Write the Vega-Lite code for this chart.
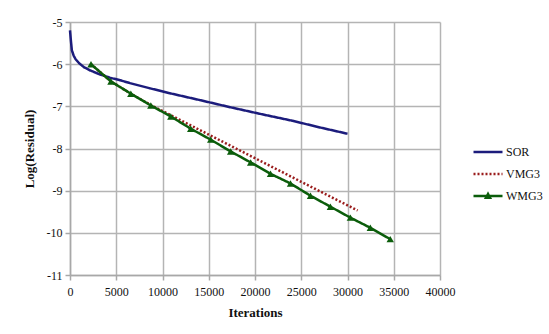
{
  "$schema": "https://vega.github.io/schema/vega-lite/v6.json",
  "width": 370,
  "height": 253,
  "autosize": {"type": "none"},
  "padding": {"left": 70, "top": 22, "right": 109, "bottom": 59},
  "background": "white",
  "config": {
    "font": "Liberation Serif",
    "view": {"stroke": null},
    "axis": {
      "gridColor": "#b4b4b4",
      "gridWidth": 1.5,
      "gridOpacity": 1,
      "domainColor": "#a8a8a8",
      "domainWidth": 1.5,
      "tickColor": "#a8a8a8",
      "tickWidth": 1.5,
      "tickSize": 5,
      "labelFlush": false,
      "labelOverlap": false,
      "labelFont": "Liberation Serif",
      "labelFontSize": 12,
      "labelColor": "#111",
      "titleFont": "Liberation Serif",
      "titleFontSize": 13,
      "titleFontWeight": "bold",
      "titleColor": "#111"
    }
  },
  "data": {
    "values": [
      {"series": "SOR", "it": 0, "r": -5.2},
      {"series": "SOR", "it": 100, "r": -5.45},
      {"series": "SOR", "it": 200, "r": -5.67},
      {"series": "SOR", "it": 400, "r": -5.8},
      {"series": "SOR", "it": 600, "r": -5.88},
      {"series": "SOR", "it": 1000, "r": -5.98},
      {"series": "SOR", "it": 1500, "r": -6.07},
      {"series": "SOR", "it": 2200, "r": -6.15},
      {"series": "SOR", "it": 3200, "r": -6.24},
      {"series": "SOR", "it": 4300, "r": -6.32},
      {"series": "SOR", "it": 5400, "r": -6.38},
      {"series": "SOR", "it": 6500, "r": -6.45},
      {"series": "SOR", "it": 8600, "r": -6.57},
      {"series": "SOR", "it": 10800, "r": -6.69},
      {"series": "SOR", "it": 14000, "r": -6.85},
      {"series": "SOR", "it": 17500, "r": -7.03},
      {"series": "SOR", "it": 21000, "r": -7.2},
      {"series": "SOR", "it": 24000, "r": -7.34},
      {"series": "SOR", "it": 27000, "r": -7.5},
      {"series": "SOR", "it": 30000, "r": -7.65},
      {"series": "VMG3", "it": 2270, "r": -6.0},
      {"series": "VMG3", "it": 4430, "r": -6.41},
      {"series": "VMG3", "it": 6580, "r": -6.7},
      {"series": "VMG3", "it": 8740, "r": -6.97},
      {"series": "VMG3", "it": 15000, "r": -7.67},
      {"series": "VMG3", "it": 20000, "r": -8.23},
      {"series": "VMG3", "it": 25000, "r": -8.79},
      {"series": "VMG3", "it": 31100, "r": -9.47},
      {"series": "WMG3", "it": 2270, "r": -6.0},
      {"series": "WMG3", "it": 4430, "r": -6.41},
      {"series": "WMG3", "it": 6580, "r": -6.7},
      {"series": "WMG3", "it": 8740, "r": -6.98},
      {"series": "WMG3", "it": 10900, "r": -7.24},
      {"series": "WMG3", "it": 13050, "r": -7.53},
      {"series": "WMG3", "it": 15210, "r": -7.79},
      {"series": "WMG3", "it": 17370, "r": -8.07},
      {"series": "WMG3", "it": 19530, "r": -8.33},
      {"series": "WMG3", "it": 21680, "r": -8.6},
      {"series": "WMG3", "it": 23840, "r": -8.83},
      {"series": "WMG3", "it": 26000, "r": -9.12},
      {"series": "WMG3", "it": 28150, "r": -9.38},
      {"series": "WMG3", "it": 30310, "r": -9.64},
      {"series": "WMG3", "it": 32470, "r": -9.88},
      {"series": "WMG3", "it": 34620, "r": -10.15}
    ]
  },
  "encoding": {
    "x": {
      "field": "it", "type": "quantitative",
      "scale": {"domain": [0, 40000], "nice": false},
      "axis": {"values": [0, 5000, 10000, 15000, 20000, 25000, 30000, 35000, 40000], "labelExpr": "'' + datum.value", "title": "Iterations", "labelPadding": 6, "titlePadding": 9}
    },
    "y": {
      "field": "r", "type": "quantitative",
      "scale": {"domain": [-11, -5], "nice": false, "zero": false},
      "axis": {"values": [-11, -10, -9, -8, -7, -6, -5], "labelExpr": "'' + datum.value", "title": "Log(Residual)", "labelPadding": 3, "titlePadding": 10}
    }
  },
  "layer": [
    {
      "mark": {"type": "line", "strokeWidth": 2.5, "clip": false},
      "encoding": {
        "color": {
          "field": "series", "type": "nominal",
          "scale": {"domain": ["SOR", "VMG3", "WMG3"], "range": ["#1c1c7c", "#9a1c1c", "#0b5d0b"]},
          "legend": {
            "title": null, "orient": "none", "legendX": 402, "legendY": 114,
            "symbolType": "stroke", "symbolSize": 841, "symbolStrokeWidth": 2.5,
            "labelFont": "Liberation Serif", "labelFontSize": 12, "labelColor": "#111",
            "labelOffset": 2, "rowPadding": -12, "padding": 0,
            "encode": {
              "symbols": {
                "update": {
                  "shape": [
                    {"test": "datum.value === 'WMG3'", "value": "M-1,0H1M-0.14,0.12L0,-0.14L0.14,0.12Z"},
                    {"value": "stroke"}
                  ],
                  "fill": [
                    {"test": "datum.value === 'WMG3'", "value": "#0b5d0b"},
                    {"value": "transparent"}
                  ]
                }
              }
            }
          }
        },
        "strokeDash": {
          "field": "series", "type": "nominal",
          "scale": {"domain": ["SOR", "VMG3", "WMG3"], "range": [[1, 0], [2, 2], [1, 0]]},
          "legend": null
        }
      }
    },
    {
      "transform": [{"filter": "datum.series == 'WMG3'"}],
      "mark": {"type": "point", "shape": "triangle-up", "filled": true, "size": 55, "opacity": 1, "color": "#0b5d0b"},
      "encoding": {}
    }
  ]
}
